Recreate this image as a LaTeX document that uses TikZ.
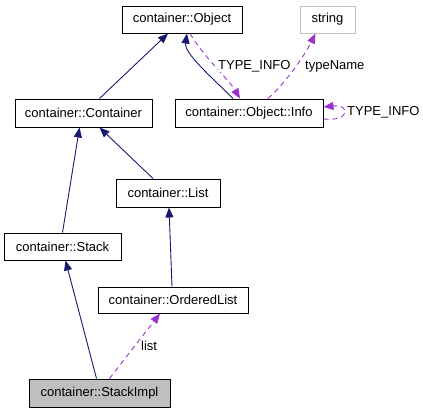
\documentclass[tikz,border=0pt]{standalone}
\usepackage{fontspec}
\setmainfont{Liberation Sans}
\usetikzlibrary{arrows.meta}
\definecolor{navyc}{HTML}{191970}
\definecolor{purpc}{HTML}{9A32CD}
\definecolor{grayf}{HTML}{BFBFBF}
\begin{document}
\begin{tikzpicture}[x=1pt,y=-1pt,
  cls/.style={draw=black,line width=1pt,fill=white,inner sep=0pt,font=\fontsize{13}{15}\selectfont,anchor=center},
  inh/.style={draw=navyc,line width=0.9pt,-{Triangle[length=10pt,width=8pt]}},
  use/.style={draw=purpc,line width=0.9pt,dash pattern=on 5pt off 4pt,-{Triangle[length=10pt,width=8pt]}},
  lbl/.style={font=\fontsize{13}{15}\selectfont,inner sep=0pt}]
\useasboundingbox (0,0) rectangle (423,413);
\node[cls,minimum width=120pt,minimum height=27pt] (obj) at (182,19.5) {container::Object};
\node[cls,draw=grayf,minimum width=55pt,minimum height=27pt] (str) at (327.5,19.5) {string};
\node[cls,minimum width=148pt,minimum height=28pt] (info) at (249,113) {container::Object::Info};
\node[cls,minimum width=137pt,minimum height=28pt] (cont) at (83.5,113) {container::Container};
\node[cls,minimum width=104pt,minimum height=28pt] (list) at (168,193) {container::List};
\node[cls,minimum width=117pt,minimum height=27pt] (stack) at (62.5,246.5) {container::Stack};
\node[cls,minimum width=150pt,minimum height=26pt] (olist) at (173,300) {container::OrderedList};
\node[cls,fill=grayf,minimum width=141pt,minimum height=28pt] (impl) at (99.5,393) {container::StackImpl};
% inheritance
\draw[inh] ([xshift=16pt]cont.north) -- ([xshift=-14pt]obj.south);
\draw[inh] ([xshift=-16pt]info.north) .. controls +(-20,-20) and +(-3,20) .. ([xshift=5pt]obj.south);
\draw[inh] ([xshift=0pt]stack.north) -- ([xshift=-4pt]cont.south);
\draw[inh] ([xshift=-15pt]list.north) -- ([xshift=16pt]cont.south);
\draw[inh] ([xshift=-1pt]olist.north) -- ([xshift=1pt]list.south);
\draw[inh] ([xshift=-3pt]impl.north) -- ([xshift=3pt]stack.south);
% usage
\draw[use] ([xshift=8pt]obj.south) .. controls +(15,25) and +(-12,-20) .. ([xshift=-9pt]info.north);
\node[lbl,fill=white,anchor=west] (l1) at (218,66) {TYPE\_INFO};
\draw[use] ([xshift=19pt]info.north) .. controls +(20,-18) and +(-10,20) .. ([xshift=-12pt]str.south);
\node[lbl,anchor=west] (l2) at (305,66) {typeName};
\draw[use] ([yshift=-6pt]info.east) .. controls +(27,3) and +(27,-3) .. ([yshift=6pt]info.east);
\node[lbl,anchor=west] (l3) at (347,112) {TYPE\_INFO};
\draw[use] ([xshift=10pt]impl.north) -- ([xshift=-13pt]olist.south);
\node[lbl,anchor=west] (l4) at (141,346) {list};
\end{tikzpicture}
\end{document}
